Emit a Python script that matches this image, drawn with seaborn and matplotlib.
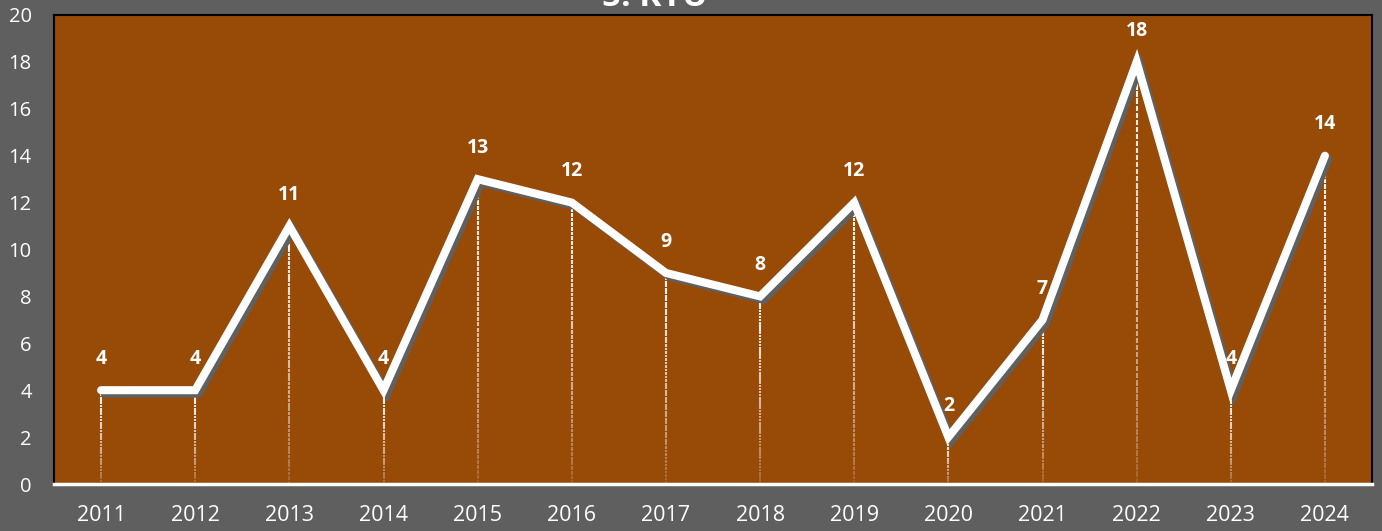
import matplotlib
matplotlib.use("Agg")
import matplotlib.pyplot as plt
import matplotlib.patheffects as pe
import seaborn as sns
import pandas as pd
import numpy as np

years = ["2011", "2012", "2013", "2014", "2015", "2016", "2017",
         "2018", "2019", "2020", "2021", "2022", "2023", "2024"]
values = [4, 4, 11, 4, 13, 12, 9, 8, 12, 2, 7, 18, 4, 14]
title = "5. KYU"

BG = "#5F5F5F"
PLOT = "#984A07"

sns.set_theme(style="white")
plt.rcParams["font.family"] = ["Open Sans", "DejaVu Sans"]

df = pd.DataFrame({"year": years, "value": values})
df["x"] = np.arange(len(years))

fig = plt.figure(figsize=(13.82, 5.31), dpi=100, facecolor=BG)
ax = fig.add_axes([54 / 1382, 1 - 484 / 531, (1372 - 54) / 1382, (484 - 15) / 531])
ax.set_facecolor(PLOT)

# fading drop lines
nseg = 60
for i in range(nseg):
    f0, f1 = i / nseg, (i + 0.8) / nseg
    alpha = 0.12 + 0.88 * (i / nseg) ** 0.7
    ax.vlines(df["x"], df["value"] * f0, df["value"] * f1, colors="white",
              linewidth=1.5, alpha=alpha, zorder=2)

sns.lineplot(data=df, x="x", y="value", ax=ax, color="white", linewidth=5.8,
             zorder=4, solid_capstyle="round", solid_joinstyle="miter",
             path_effects=[pe.SimpleLineShadow(offset=(2.5, -2.5), shadow_color="#606060", alpha=1.0),
                           pe.Normal()])

for xi, v in zip(df["x"], df["value"]):
    ax.annotate(str(v), (xi, v), xytext=(0, 22.5), textcoords="offset points",
                ha="center", va="center", color="white", fontsize=14, fontweight="bold",
                zorder=5)

ax.set_xlim(-0.5, len(years) - 0.5)
ax.set_ylim(0, 20)
ax.set_yticks(range(0, 21, 2))
ax.set_xticks(df["x"])
ax.set_xticklabels(years)
ax.set_xlabel("")
ax.set_ylabel("")

ax.tick_params(axis="y", colors="white", labelsize=14.5, length=0, pad=16)
ax.tick_params(axis="x", colors="white", labelsize=15.5, length=0, pad=15)

# minor ticks at category boundaries
ax.set_xticks(np.arange(-0.5, len(years), 1), minor=True)
ax.tick_params(axis="x", which="minor", direction="out", length=6, width=2, color="white")

for s in ["left", "top", "right"]:
    ax.spines[s].set_color("black")
    ax.spines[s].set_linewidth(1.5)
ax.spines["bottom"].set_color("white")
ax.spines["bottom"].set_linewidth(2.5)

fig.text(655 / 1382, 1 + 2 / 531, title, ha="center", va="center", color="white",
         fontsize=24, fontweight="bold")

fig.savefig("out.png", dpi=100, facecolor=BG)
